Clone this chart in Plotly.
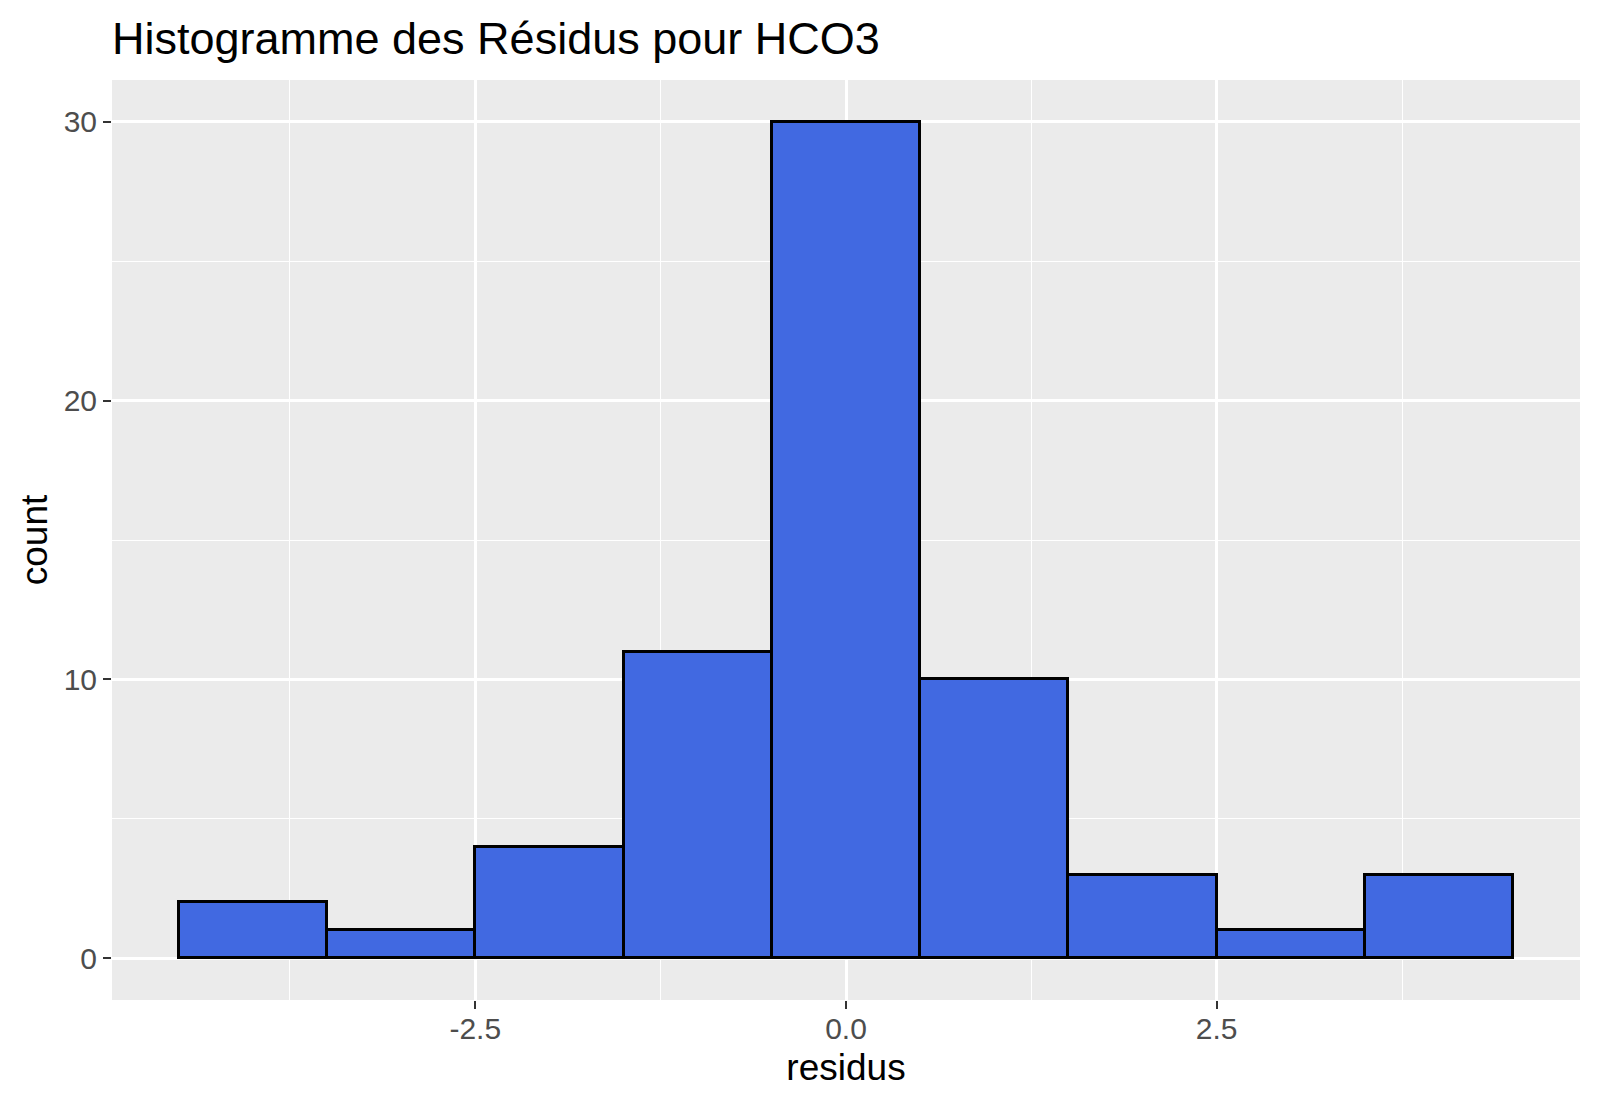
import plotly.graph_objects as go

# Histogram bins (centers, width 1) and counts
bin_centers = [-4, -3, -2, -1, 0, 1, 2, 3, 4]
counts = [2, 1, 4, 11, 30, 10, 3, 1, 3]
bin_width = 1.0

x_tickvals = [-2.5, 0.0, 2.5]
x_ticktext = ["-2.5", "0.0", "2.5"]
y_tickvals = [0, 10, 20, 30]
y_ticktext = ["0", "10", "20", "30"]

FONT = "Liberation Sans, Arial, Helvetica, sans-serif"

fig = go.Figure()
fig.add_trace(go.Bar(
    x=bin_centers,
    y=counts,
    width=[bin_width] * len(bin_centers),
    marker=dict(color="#4169E1", line=dict(color="black", width=3)),
    showlegend=False,
    hoverinfo="x+y",
))

fig.update_layout(
    width=1600,
    height=1106,
    paper_bgcolor="white",
    plot_bgcolor="#EBEBEB",
    margin=dict(l=104, r=28, t=72, b=114),
    bargap=0,
    title=dict(
        text="Histogramme des Résidus pour HCO3",
        x=104 / 1600, xanchor="left",
        y=1 - 30 / 1106, yanchor="middle",
        font=dict(family=FONT, size=45, color="black"),
    ),
    font=dict(family=FONT),
)

fig.update_xaxes(
    range=[-4.95, 4.95],
    tickmode="array",
    tickvals=x_tickvals,
    ticktext=x_ticktext,
    ticks="outside",
    ticklen=8,
    tickwidth=2.4,
    tickcolor="#333333",
    ticklabelstandoff=-6,
    tickfont=dict(family=FONT, size=30, color="#4D4D4D"),
    showgrid=True,
    gridcolor="white",
    gridwidth=2.8,
    zeroline=False,
    showline=False,
    minor=dict(tickmode="linear", tick0=-3.75, dtick=2.5, showgrid=True,
               gridcolor="white", gridwidth=1.4, ticks=""),
    title=dict(text="residus", font=dict(family=FONT, size=37, color="black"), standoff=10),
)

fig.update_yaxes(
    range=[-1.5, 31.5],
    tickmode="array",
    tickvals=y_tickvals,
    ticktext=y_ticktext,
    ticks="outside",
    ticklen=8,
    tickwidth=2.4,
    tickcolor="#333333",
    tickfont=dict(family=FONT, size=30, color="#4D4D4D"),
    showgrid=True,
    gridcolor="white",
    gridwidth=2.8,
    zeroline=False,
    showline=False,
    minor=dict(tickmode="linear", tick0=5, dtick=10, showgrid=True,
               gridcolor="white", gridwidth=1.4, ticks=""),
    title=dict(text="count", font=dict(family=FONT, size=37, color="black"), standoff=4),
)

fig.write_html("out.html")
